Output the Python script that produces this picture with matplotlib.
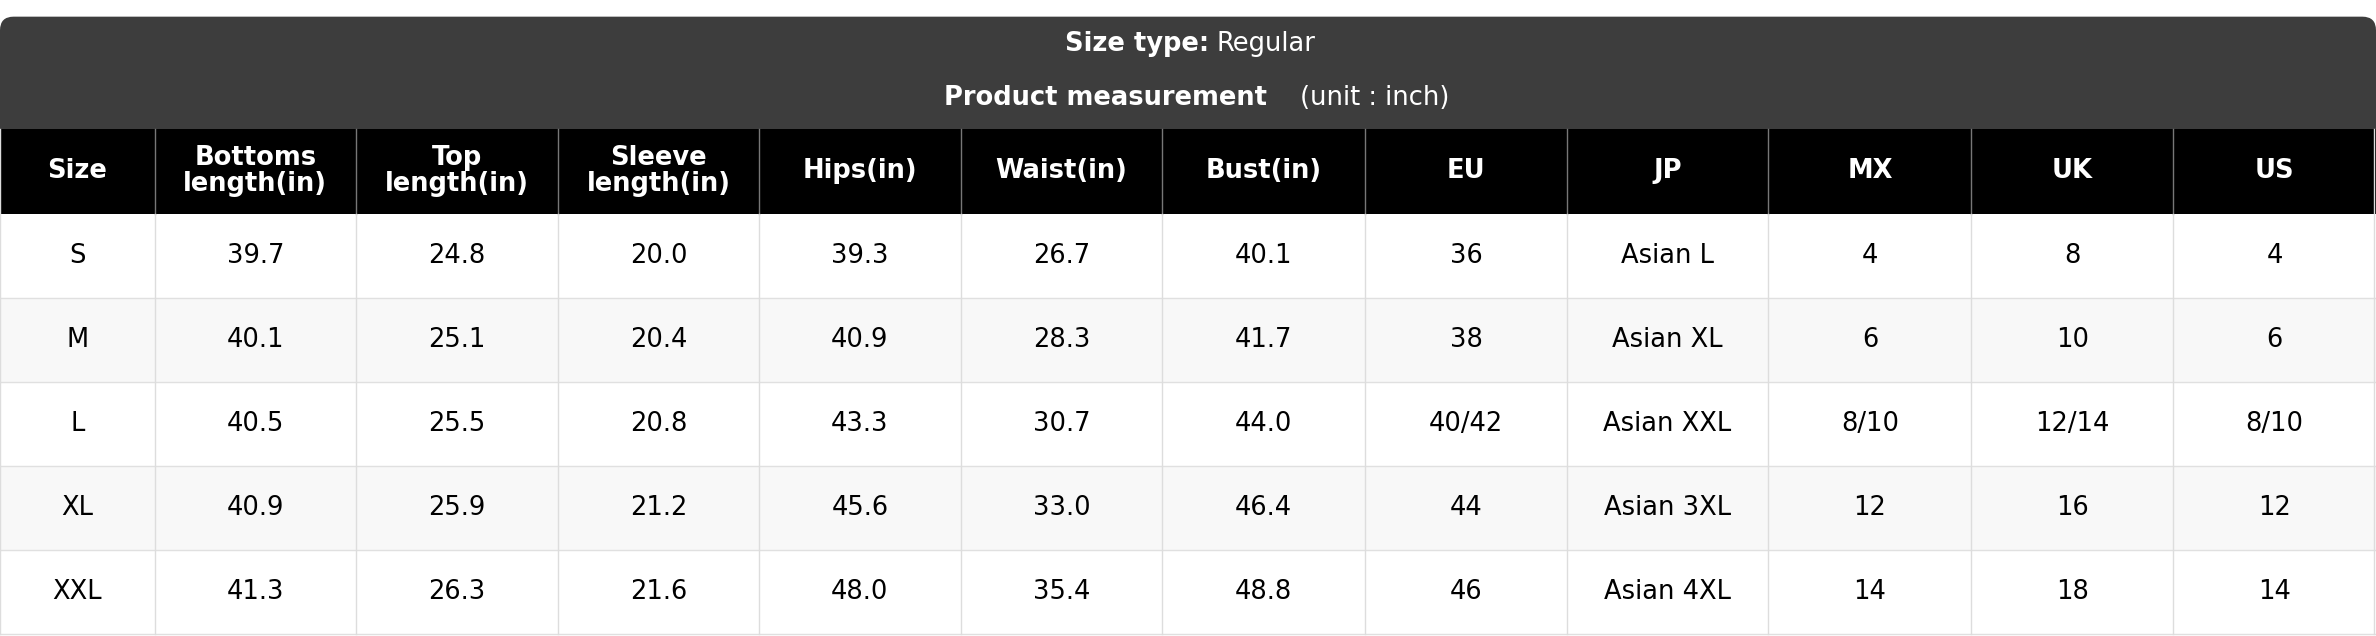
import matplotlib.pyplot as plt
from matplotlib.patches import Rectangle, FancyBboxPatch

columns = ["Size", "Bottoms\nlength(in)", "Top\nlength(in)", "Sleeve\nlength(in)", "Hips(in)",
           "Waist(in)", "Bust(in)", "EU", "JP", "MX", "UK", "US"]
sizes = ["S", "M", "L", "XL", "XXL"]
bottoms = ["39.7", "40.1", "40.5", "40.9", "41.3"]
top_len = ["24.8", "25.1", "25.5", "25.9", "26.3"]
sleeve = ["20.0", "20.4", "20.8", "21.2", "21.6"]
hips = ["39.3", "40.9", "43.3", "45.6", "48.0"]
waist = ["26.7", "28.3", "30.7", "33.0", "35.4"]
bust = ["40.1", "41.7", "44.0", "46.4", "48.8"]
eu = ["36", "38", "40/42", "44", "46"]
jp = ["Asian L", "Asian XL", "Asian XXL", "Asian 3XL", "Asian 4XL"]
mx = ["4", "6", "8/10", "12", "14"]
uk = ["8", "10", "12/14", "16", "18"]
us = ["4", "6", "8/10", "12", "14"]
table = [sizes, bottoms, top_len, sleeve, hips, waist, bust, eu, jp, mx, uk, us]

# layout in reference pixels (1568 x 420 view)
W, H = 1568, 420
col_edges = [0, 102, 235, 368, 501, 634, 767, 901, 1034, 1167, 1301, 1434, 1568]
title_top, head_top, body_top, row_h = 11, 85, 141, 55.6
FS = 18.5

fig = plt.figure(figsize=(23.76, 6.36), dpi=100)
ax = fig.add_axes([0, 0, 1, 1])
ax.set_xlim(0, W)
ax.set_ylim(H, 0)
ax.axis("off")

# title block with rounded top corners
ax.add_patch(FancyBboxPatch((0, title_top), W, head_top - title_top + 20,
                            boxstyle="round,pad=0,rounding_size=9", fc="#3d3d3d", ec="none"))
ax.add_patch(Rectangle((0, head_top), W, body_top - head_top, fc="black", ec="none"))
ax.text(798, 29, "Size type:", ha="right", va="center", color="white",
        fontsize=FS, fontweight="bold")
ax.text(803, 29, "Regular", ha="left", va="center", color="white", fontsize=FS)
ax.text(836, 65, "Product measurement", ha="right", va="center", color="white",
        fontsize=FS, fontweight="bold")
ax.text(858, 65, "(unit : inch)", ha="left", va="center", color="white", fontsize=FS)

# rows
for r in range(len(sizes)):
    y0 = body_top + r * row_h
    ax.add_patch(Rectangle((0, y0), W, row_h, fc="white" if r % 2 == 0 else "#f8f8f8", ec="none"))
    ax.plot([0, W], [y0 + row_h, y0 + row_h], color="#e0e0e0", lw=1)

# columns
for c, name in enumerate(columns):
    xc = (col_edges[c] + col_edges[c + 1]) / 2
    ax.text(xc, (head_top + body_top) / 2, name, ha="center", va="center", color="white",
            fontsize=FS, fontweight="bold", linespacing=1.0)
    for r, val in enumerate(table[c]):
        ax.text(xc, body_top + (r + 0.5) * row_h, val, ha="center", va="center",
                color="black", fontsize=FS)
for x in col_edges[1:-1]:
    ax.plot([x, x], [head_top, body_top], color="#777777", lw=1)
    ax.plot([x, x], [body_top, H - 1], color="#dddddd", lw=1)
ax.plot([0, 0], [head_top, H - 1], color="#dddddd", lw=1)
ax.plot([W - 1, W - 1], [head_top, H - 1], color="#dddddd", lw=1)

fig.savefig("out.png", dpi=100, facecolor="white")
